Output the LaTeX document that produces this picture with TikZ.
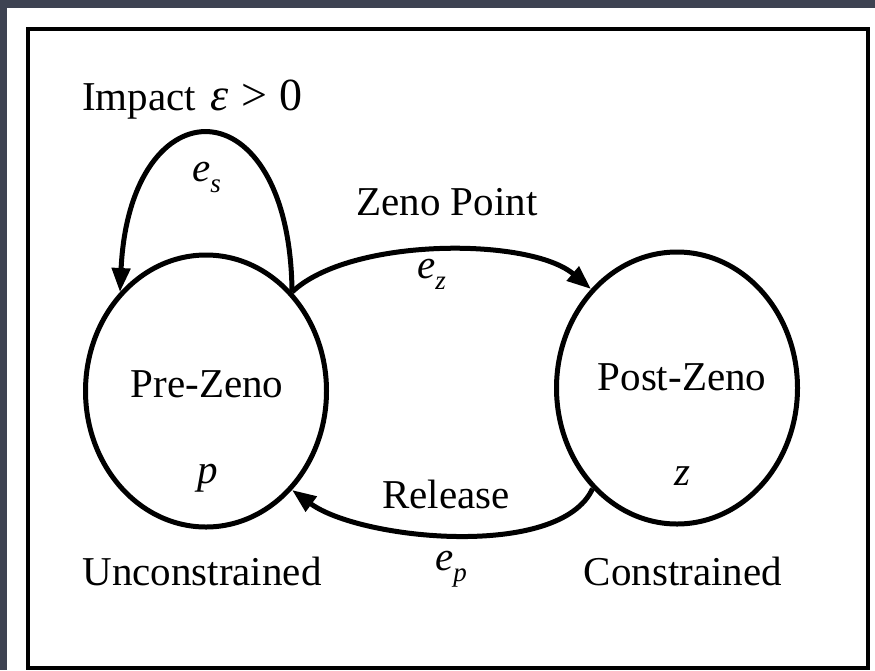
\documentclass[tikz,border=0pt]{standalone}
\usepackage{fontspec}
\setmainfont{Liberation Serif}
\usetikzlibrary{arrows.meta,shapes.geometric}
\definecolor{bgslate}{RGB}{62,67,82}
\newcommand{\mysub}[2]{{\itshape #1}\raisebox{-11pt}{\fontsize{27}{30}\selectfont\itshape #2}}
\begin{document}
\begin{tikzpicture}[x=1pt,y=-1pt,
  state/.style={draw,ellipse,line width=5pt,minimum width=241pt,minimum height=272pt,inner sep=0pt},
  lbl/.style={inner sep=0pt,font=\fontsize{41}{48}\selectfont},
  edge/.style={line width=5pt,-{Triangle[length=24pt,width=18pt]}}]
\fill[bgslate] (0,0) rectangle (875,670);
\useasboundingbox (0,0) rectangle (875,670);
\fill[white] (7,8) rectangle (875,670);
\draw[line width=4pt] (28,29) rectangle (868,668);

\node[state] (pre) at (206,391) {};
\node[state] (post) at (677,388) {};

\draw[edge] (pre.49) .. controls (290,82) and (130,82) .. (pre.131);
\draw[edge] (pre.49) .. controls (350,237) and (530,237) .. (post.131);
\draw[edge] (post.-130) .. controls (560,560) and (360,540) .. (pre.-49);

\node[lbl,anchor=base west] (impact) at (82,110) {Impact\hspace{14pt}{\fontsize{46}{50}\selectfont{\itshape ε}\hspace{2pt} > 0}};
\node[lbl,anchor=base west] (es) at (192,181) {\mysub{e}{s}};
\node[lbl,anchor=base] (zp) at (447,215) {Zeno Point};
\node[lbl,anchor=base west] (ez) at (417,278) {\mysub{e}{z}};
\node[lbl,anchor=base] (pretxt) at (207,397) {Pre-Zeno};
\node[lbl,anchor=base] (ptxt) at (208,483) {\itshape p};
\node[lbl,anchor=base] (posttxt) at (682,390) {Post-Zeno};
\node[lbl,anchor=base] (ztxt) at (682,485) {\itshape z};
\node[lbl,anchor=base] (rel) at (446,508) {Release};
\node[lbl,anchor=base west] (ep) at (435,570) {\mysub{e}{p}};
\node[lbl,anchor=base] (unc) at (202,585) {Unconstrained};
\node[lbl,anchor=base] (con) at (683,585) {Constrained};
\end{tikzpicture}
\end{document}
